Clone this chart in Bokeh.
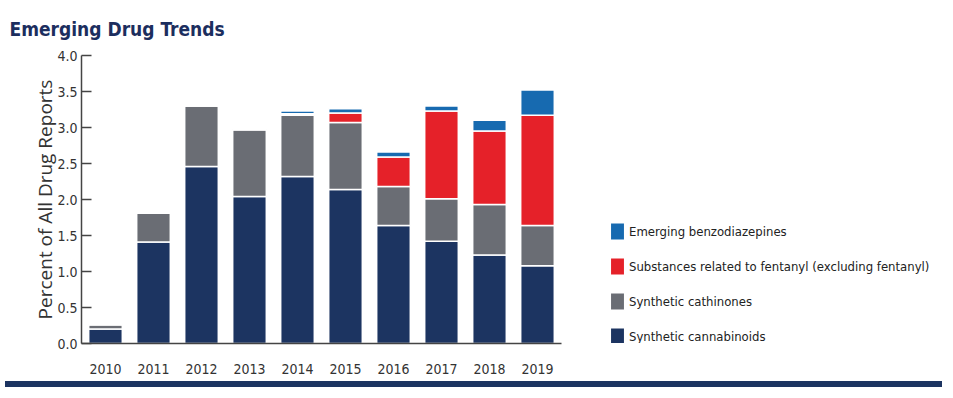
from bokeh.plotting import figure
from bokeh.models import ColumnDataSource, Legend, LegendItem, Range1d, Div
from bokeh.layouts import column
from bokeh.embed import file_html
from bokeh.resources import INLINE

years = ["2010", "2011", "2012", "2013", "2014", "2015", "2016", "2017", "2018", "2019"]
cannabinoids = [0.20, 1.41, 2.46, 2.04, 2.32, 2.14, 1.64, 1.42, 1.23, 1.08]
cathinones = [0.06, 0.40, 0.84, 0.93, 0.85, 0.93, 0.54, 0.59, 0.70, 0.56]
fentanyl = [0.0, 0.0, 0.0, 0.0, 0.02, 0.13, 0.41, 1.22, 1.02, 1.53]
benzodiazepines = [0.0, 0.0, 0.0, 0.0, 0.04, 0.06, 0.07, 0.07, 0.15, 0.35]

series = ["cannabinoids", "cathinones", "fentanyl", "benzodiazepines"]
labels = ["Synthetic cannabinoids", "Synthetic cathinones",
          "Substances related to fentanyl (excluding fentanyl)", "Emerging benzodiazepines"]
colors = ["#1c3461", "#6a6d74", "#e52129", "#176ab0"]
y_ticks = [0.0, 0.5, 1.0, 1.5, 2.0, 2.5, 3.0, 3.5, 4.0]

FONT = "DejaVu Sans Condensed"

n = len(years)
xpos = [i + 0.5 for i in range(n)]
source = ColumnDataSource(dict(x=xpos, years=years, cannabinoids=cannabinoids, cathinones=cathinones,
                               fentanyl=fentanyl, benzodiazepines=benzodiazepines))

W, H = 937, 376
LEFT = 81
STEP = 48.0  # pixels per year slot
p = figure(width=W, height=H, x_range=Range1d(0, (W - LEFT) / STEP),
           y_range=Range1d(0, 4.0), output_backend="svg", toolbar_location=None,
           min_border_left=LEFT, min_border_right=0, min_border_top=53, min_border_bottom=33)

renderers = p.vbar_stack(series, x="x", width=0.7, source=source, color=colors,
                         line_color="white", line_width=1.5)

p.title.text = "Emerging Drug Trends"
p.title.text_font = FONT
p.title.text_font_size = "19px"
p.title.text_font_style = "bold"
p.title.text_color = "#1c2e5e"
p.title.align = "left"
p.title.offset = -72
p.title.standoff = 31

p.xgrid.visible = False
p.ygrid.visible = False
p.outline_line_color = None
p.background_fill_color = "white"
p.border_fill_color = "white"

p.yaxis.ticker = y_ticks
p.yaxis.major_label_overrides = {t: f"{t:.1f}" for t in y_ticks}
p.yaxis.major_tick_in = 10
p.yaxis.major_tick_out = 0
p.yaxis.minor_tick_line_color = None
p.yaxis.axis_line_color = "#444444"
p.yaxis.axis_line_width = 1.5
p.yaxis.major_tick_line_color = "#444444"
p.yaxis.major_tick_line_width = 1.5
p.yaxis.major_label_text_font = FONT
p.yaxis.major_label_text_font_size = "14px"
p.yaxis.major_label_text_color = "#333333"
p.yaxis.major_label_standoff = 4
p.yaxis.axis_label = "Percent of All Drug Reports"
p.yaxis.axis_label_text_font = "Open Sans"
p.yaxis.axis_label_text_font_style = "normal"
p.yaxis.axis_label_text_font_size = "19px"
p.yaxis.axis_label_text_color = "#333333"
p.yaxis.axis_label_standoff = -4

p.xaxis.ticker = xpos
p.xaxis.major_label_overrides = {x: y for x, y in zip(xpos, years)}
p.xaxis.bounds = (0, n)
p.xaxis.major_tick_line_color = None
p.xaxis.minor_tick_line_color = None
p.xaxis.axis_line_color = "#444444"
p.xaxis.axis_line_width = 1.5
p.xaxis.major_label_text_font = FONT
p.xaxis.major_label_text_font_size = "14px"
p.xaxis.major_label_text_color = "#333333"
p.xaxis.major_label_standoff = 14

items = [LegendItem(label=labels[i], renderers=[renderers[i]]) for i in reversed(range(4))]
legend = Legend(items=items, location=(527, -4), orientation="vertical",
                label_text_font=FONT, label_text_font_size="13px",
                label_text_color="#222222", glyph_width=18, glyph_height=22,
                label_height=22, spacing=13, padding=0, margin=0, label_standoff=3,
                border_line_color=None, background_fill_alpha=0)
p.add_layout(legend, "center")

band = Div(text="", width=W, height=6, styles={"background-color": "#1c3461"})

layout = column(p, band, spacing=0)
open("out.html", "w").write(file_html(layout, INLINE))
